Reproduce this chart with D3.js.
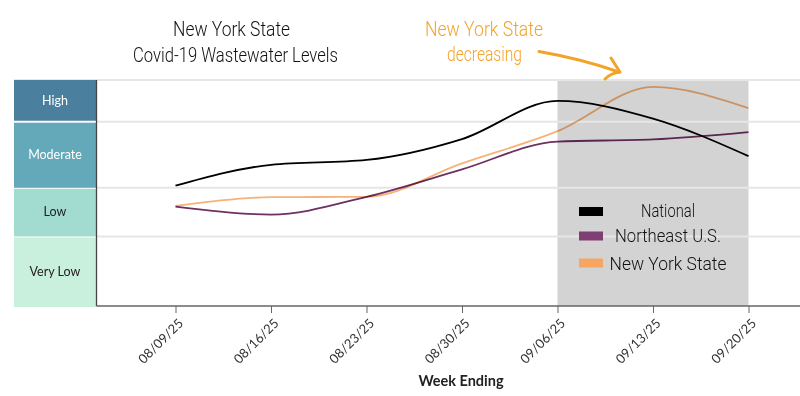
<!DOCTYPE html>
<html>
<head>
<meta charset="utf-8">
<script src="https://cdn.jsdelivr.net/npm/d3@7"></script>
<style>
  html, body { margin: 0; padding: 0; background: #fff; }
  svg { display: block; }
</style>
</head>
<body>
<svg id="chart" width="800" height="396"></svg>
<script>
// ---- Data ----
const weeks = ["2025-08-09","2025-08-16","2025-08-23","2025-08-30","2025-09-06","2025-09-13","2025-09-20"];
const national  = [3.46, 4.06, 4.20, 4.80, 5.90, 5.39, 4.31];
const northeast = [2.86, 2.63, 3.14, 3.93, 4.73, 4.79, 5.00];
const nys       = [2.88, 3.13, 3.14, 4.10, 5.03, 6.30, 5.69];
const seriesNames = ["National", "Northeast U.S.", "New York State"];
const levelNames = ["Very Low", "Low", "Moderate", "High"];
const levelBreaks = [0, 2, 3.4, 5.3, 6.5];
const highlightRange = ["2025-09-06", "2025-09-20"];
const titleLines = ["New York State", "Covid-19 Wastewater Levels"];
const annotationLines = ["New York State", "decreasing"];
const xAxisTitle = "Week Ending";

// ---- Setup ----
const parse = d3.timeParse("%Y-%m-%d");
const dates = weeks.map(parse);
const svg = d3.select("#chart");
const hand = "Roboto, 'Liberation Sans Narrow', sans-serif";
const sans = "Lato, 'Open Sans', sans-serif";

const plotLeft = 96.5, plotRight = 800, plotTop = 80, plotBottom = 306;

const x = d3.scaleTime().domain([dates[0], dates[dates.length - 1]]).range([175.5, 748.5]);
const y = d3.scaleLinear().domain([0, 6.5]).range([plotBottom, plotTop]);

const levelColors = ["#c9efdd", "#a2dcd0", "#64a9ba", "#4a7f9d"];
const levelText = ["#222", "#222", "#fff", "#fff"];
const seriesColors = ["#000000", "#6e2f63", "#f4a460"];
const swatchColors = ["#000000", "#7f3f75", "#f6a562"];

// Highlight band
svg.append("rect")
  .attr("x", x(parse(highlightRange[0])))
  .attr("y", y(6.5))
  .attr("width", x(parse(highlightRange[1])) - x(parse(highlightRange[0])))
  .attr("height", y(0) - y(6.5))
  .attr("fill", "#d3d3d3");

// Gridlines
const gridVals = levelBreaks.slice(1);
svg.append("g").selectAll("line").data(gridVals).join("line")
  .attr("x1", d => d === 6.5 ? 14 : plotLeft)
  .attr("x2", plotRight)
  .attr("y1", d => y(d)).attr("y2", d => y(d))
  .attr("stroke", "#e6e6e6").attr("stroke-width", 2);

// Level bands at left
const bands = svg.append("g");
levelNames.forEach((name, i) => {
  const y0 = y(levelBreaks[i]), y1 = y(levelBreaks[i + 1]);
  bands.append("rect")
    .attr("x", 14).attr("width", plotLeft - 14)
    .attr("y", y1 + (i === 3 ? 0 : 1)).attr("height", y0 - y1 - 1 - (i === 0 ? -1 : 0))
    .attr("fill", levelColors[i]);
  bands.append("text")
    .attr("x", 55).attr("y", (y0 + y1) / 2)
    .attr("dy", "0.35em")
    .attr("text-anchor", "middle")
    .attr("font-family", sans).attr("font-size", 12.5)
    .attr("fill", levelText[i])
    .text(name);
});

// Lines
const line = d3.line()
  .x((d, i) => x(dates[i]))
  .y(d => y(d))
  .curve(d3.curveMonotoneX);
[national, northeast, nys].forEach((s, k) => {
  svg.append("path")
    .datum(s)
    .attr("fill", "none")
    .attr("stroke", seriesColors[k])
    .attr("stroke-width", 1.8)
    .attr("stroke-opacity", k === 2 ? 0.85 : 1)
    .style("mix-blend-mode", "multiply")
    .attr("d", line);
});

// Axes
svg.append("line")
  .attr("x1", plotLeft).attr("x2", plotLeft)
  .attr("y1", plotTop).attr("y2", plotBottom)
  .attr("stroke", "#444").attr("stroke-width", 1.3);
svg.append("line")
  .attr("x1", plotLeft).attr("x2", plotRight)
  .attr("y1", plotBottom).attr("y2", plotBottom)
  .attr("stroke", "#666").attr("stroke-width", 1.3);

const xAxis = svg.append("g")
  .attr("transform", `translate(0,${plotBottom})`)
  .call(d3.axisBottom(x).tickValues(dates).tickFormat(d3.timeFormat("%m/%d/%y")).tickSize(7).tickPadding(5));
xAxis.select(".domain").remove();
xAxis.selectAll(".tick line").attr("stroke", "#666");
xAxis.selectAll(".tick text")
  .attr("font-family", sans).attr("font-size", 13).attr("fill", "#333")
  .attr("text-anchor", "end")
  .attr("transform", "rotate(-45)")
  .attr("dx", "-0.55em").attr("dy", "0.5em");

svg.append("text")
  .attr("x", 461).attr("y", 386)
  .attr("text-anchor", "middle")
  .attr("font-family", sans).attr("font-size", 14.5).attr("font-weight", 700)
  .attr("fill", "#222")
  .text(xAxisTitle);

// Title
const titleSpecs = [{x: 231.5, y: 36, w: 117}, {x: 235.5, y: 62, w: 205}];
titleLines.forEach((t, i) => {
  svg.append("text")
    .attr("x", titleSpecs[i].x).attr("y", titleSpecs[i].y)
    .attr("text-anchor", "middle")
    .attr("font-family", hand).attr("font-size", 21).attr("font-weight", 300)
    .attr("textLength", titleSpecs[i].w).attr("lengthAdjust", "spacingAndGlyphs")
    .attr("fill", "#111")
    .text(t);
});

// Annotation
const annColor = "#f2a42a";
const annSpecs = [{x: 484, y: 36, w: 118}, {x: 484.5, y: 61, w: 75}];
annotationLines.forEach((t, i) => {
  svg.append("text")
    .attr("x", annSpecs[i].x).attr("y", annSpecs[i].y)
    .attr("text-anchor", "middle")
    .attr("font-family", hand).attr("font-size", 21).attr("font-weight", 300)
    .attr("textLength", annSpecs[i].w).attr("lengthAdjust", "spacingAndGlyphs")
    .attr("fill", annColor)
    .text(t);
});
const arrowPath = d3.path();
arrowPath.moveTo(539, 51.5);
arrowPath.quadraticCurveTo(582, 59, 619, 72);
svg.append("path").attr("d", arrowPath.toString())
  .attr("fill", "none").attr("stroke", annColor).attr("stroke-width", 3).attr("stroke-linecap", "round");
const headPath = d3.path();
headPath.moveTo(611, 58);
headPath.quadraticCurveTo(616, 66, 620, 72);
headPath.quadraticCurveTo(611, 73, 605, 79);
svg.append("path").attr("d", headPath.toString())
  .attr("fill", "none").attr("stroke", annColor).attr("stroke-width", 3)
  .attr("stroke-linecap", "round").attr("stroke-linejoin", "round");

// Legend
const legSpecs = [{cy: 211.5, base: 217, w: 54}, {cy: 236, base: 241.5, w: 106}, {cy: 263, base: 269.5, w: 117}];
seriesNames.forEach((n, i) => {
  svg.append("rect")
    .attr("x", 579).attr("y", legSpecs[i].cy - 4.5)
    .attr("width", 24).attr("height", 9)
    .attr("fill", swatchColors[i]);
  svg.append("text")
    .attr("x", 668).attr("y", legSpecs[i].base)
    .attr("text-anchor", "middle")
    .attr("font-family", hand).attr("font-size", 19).attr("font-weight", 300)
    .attr("textLength", legSpecs[i].w).attr("lengthAdjust", "spacingAndGlyphs")
    .attr("fill", "#111")
    .text(n);
});
</script>
</body>
</html>
